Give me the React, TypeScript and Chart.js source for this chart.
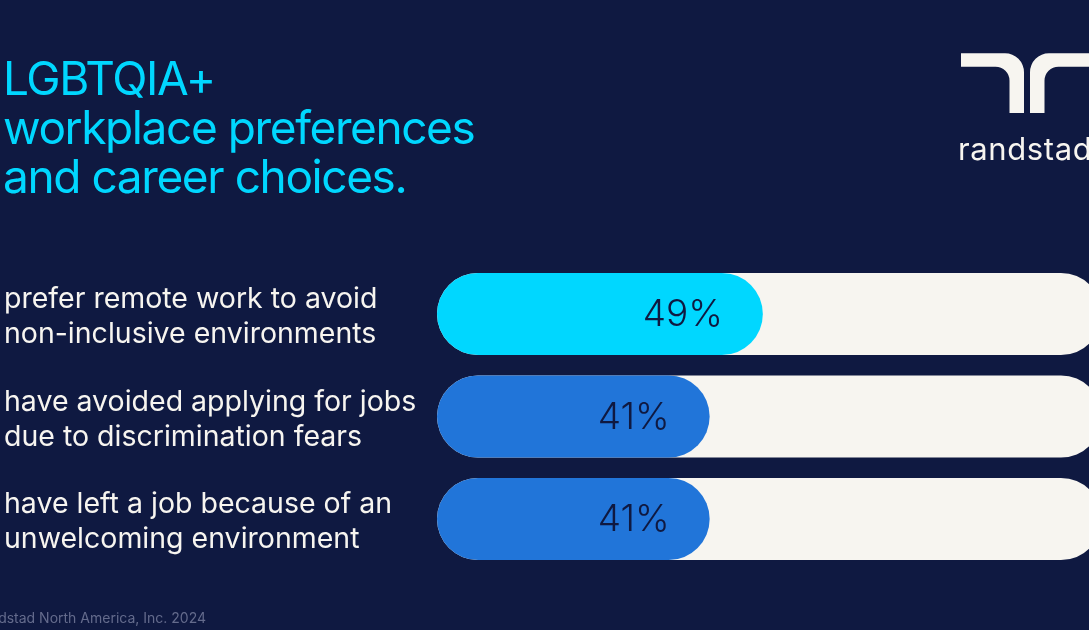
import React, { useEffect, useRef } from "react";
import { Chart, registerables } from "chart.js";

Chart.register(...registerables);

const titleLines = ["LGBTQIA+", "workplace preferences", "and career choices."];
const categories = [
  ["prefer remote work to avoid", "non-inclusive environments"],
  ["have avoided applying for jobs", "due to discrimination fears"],
  ["have left a job because of an", "unwelcoming environment"],
];
const values = [49, 41, 41];
const trackValues = [100, 100, 100];
const valueLabels = ["49%", "41%", "41%"];
const brandName = "randstad";
const footerText = "© Randstad North America, Inc. 2024";

const NAVY = "#0f1941";
const CYAN = "#00d7ff";
const BLUE = "#2175d9";
const OFFWHITE = "#f7f5f0";
const barColors = [CYAN, BLUE, BLUE];
const FONT = "Inter, 'Noto Sans', sans-serif";

const decorPlugin = {
  id: "decor",
  afterDatasetsDraw(chart: any) {
    const ctx = chart.ctx;
    ctx.save();
    const meta = chart.getDatasetMeta(0);
    ctx.font = `300 37px ${FONT}`;
    ctx.fillStyle = NAVY;
    ctx.textAlign = "right";
    ctx.textBaseline = "middle";
    meta.data.forEach((el: any, i: number) => {
      ctx.fillText(valueLabels[i], el.x - 40, el.y + 1);
    });
    ctx.restore();
  },
  beforeDraw(chart: any) {
    const ctx = chart.ctx;
    ctx.save();
    // title
    ctx.font = `400 46px ${FONT}`;
    ctx.fillStyle = CYAN;
    ctx.textAlign = "left";
    ctx.textBaseline = "alphabetic";
    (ctx as any).letterSpacing = "-1.4px";
    titleLines.forEach((t, i) => ctx.fillText(t, 3, 95 + i * 49));
    (ctx as any).letterSpacing = "0px";

    // logo mark
    ctx.fillStyle = OFFWHITE;
    const top = 53.3, barB = 66.7, bottom = 113;
    ctx.beginPath();
    ctx.moveTo(961, top);
    ctx.arcTo(1024, top, 1024, bottom, 19);
    ctx.lineTo(1024, bottom);
    ctx.lineTo(1009.5, bottom);
    ctx.arcTo(1009.5, barB, 961, barB, 14);
    ctx.lineTo(961, barB);
    ctx.closePath();
    ctx.fill();
    ctx.beginPath();
    ctx.moveTo(1102, top);
    ctx.arcTo(1030, top, 1030, bottom, 19);
    ctx.lineTo(1030, bottom);
    ctx.lineTo(1044.5, bottom);
    ctx.arcTo(1044.5, barB, 1102, barB, 14);
    ctx.lineTo(1102, barB);
    ctx.closePath();
    ctx.fill();

    // brand name
    ctx.font = `400 31px ${FONT}`;
    (ctx as any).letterSpacing = "0.6px";
    ctx.fillText(brandName, 958, 160);
    (ctx as any).letterSpacing = "0px";

    // footer
    ctx.font = `400 14px ${FONT}`;
    ctx.fillStyle = "#646b8c";
    ctx.textAlign = "right";
    ctx.fillText(footerText, 206, 623);
    ctx.restore();
  },
};

export default function App() {
  const ref = useRef<HTMLCanvasElement>(null);
  useEffect(() => {
    document.body.style.margin = "0";
    const chart = new Chart(ref.current as HTMLCanvasElement, {
      type: "bar",
      data: {
        labels: categories as any,
        datasets: [
          {
            data: values,
            backgroundColor: barColors,
            borderRadius: 41,
            borderSkipped: false,
            barPercentage: 0.8,
            categoryPercentage: 1,
            grouped: false,
          } as any,
          {
            data: trackValues,
            backgroundColor: OFFWHITE,
            borderRadius: 41,
            borderSkipped: false,
            barPercentage: 0.8,
            categoryPercentage: 1,
            grouped: false,
          } as any,
        ],
      },
      options: {
        indexAxis: "y",
        responsive: false,
        animation: false,
        devicePixelRatio: 1,
        layout: { padding: { left: 4, right: 0, top: 262.75, bottom: 59.75 } },
        scales: {
          x: { min: 0, max: 100, display: false },
          y: {
            grid: { display: false },
            border: { display: false },
            ticks: {
              crossAlign: "far",
              color: OFFWHITE,
              padding: 0,
              labelOffset: 3,
              font: { family: FONT, size: 28.5, lineHeight: 35 / 28.5 },
            },
            afterFit(s: any) {
              s.width = 433;
            },
          },
        },
        plugins: { legend: { display: false }, tooltip: { enabled: false } },
      } as any,
      plugins: [decorPlugin],
    });
    return () => chart.destroy();
  }, []);
  return (
    <div style={{ width: 1089, height: 630, overflow: "hidden", background: NAVY, position: "relative" }}>
      <canvas ref={ref} width={1102} height={630} style={{ display: "block" }} />
    </div>
  );
}
